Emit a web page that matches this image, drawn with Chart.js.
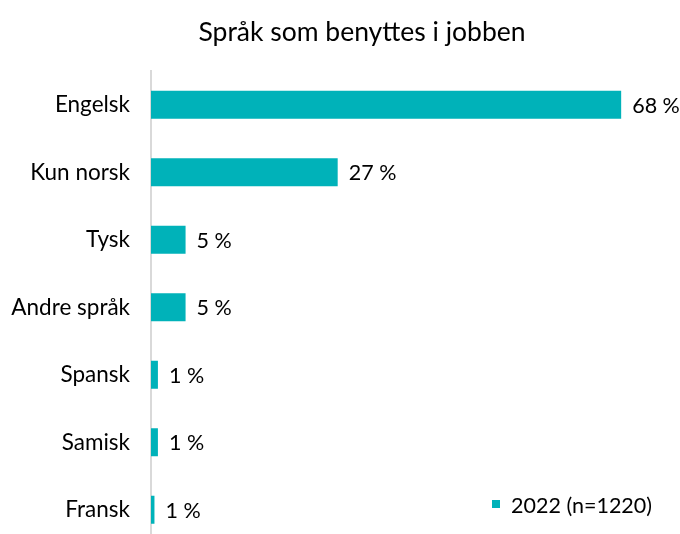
<!DOCTYPE html>
<html>
<head>
<meta charset="utf-8">
<script src="https://cdn.jsdelivr.net/npm/chart.js@4/dist/chart.umd.min.js"></script>
<style>
  html, body { margin: 0; padding: 0; background: #fff; overflow: hidden; }
</style>
</head>
<body>
<canvas id="chartSprak" width="680" height="578"></canvas>
<script>
// Data lest av figuren
const kategorier = ["Engelsk", "Kun norsk", "Tysk", "Andre språk", "Spansk", "Samisk", "Fransk"];
const verdier2022 = [68, 27, 5, 5, 1, 1, 0.5];
const serieNavn = "2022 (n=1220)";
const tittel = "Språk som benyttes i jobben";

const farge = "#00B2B9";
const font = "Lato, 'Open Sans', sans-serif";

// Tittel, verdietiketter og legende tegnes selv
const egneTegninger = {
  id: "egneTegninger",
  afterDatasetsDraw(chart) {
    const ctx = chart.ctx;
    const meta = chart.getDatasetMeta(0);
    ctx.save();
    ctx.fillStyle = "#000";
    ctx.font = "21.5px " + font;
    ctx.textAlign = "left";
    ctx.textBaseline = "middle";
    meta.data.forEach((bar, i) => {
      ctx.fillText(Math.round(verdier2022[i]) + " %", bar.x + 11, bar.y + 1);
    });

    // tittel
    ctx.font = "26.5px " + font;
    ctx.textAlign = "center";
    ctx.fillText(tittel, 362, 32);

    // legende
    ctx.fillStyle = farge;
    ctx.fillRect(492, 500, 8, 8);
    ctx.fillStyle = "#000";
    ctx.font = "21.5px " + font;
    ctx.textAlign = "left";
    ctx.fillText(serieNavn, 511, 506);
    ctx.restore();
  }
};

new Chart(document.getElementById("chartSprak"), {
  type: "bar",
  data: {
    labels: kategorier,
    datasets: [
      {
        label: serieNavn,
        data: verdier2022,
        backgroundColor: farge,
        borderWidth: 0,
        barPercentage: 0.415,
        categoryPercentage: 1,
      },
    ],
  },
  options: {
    indexAxis: "y",
    responsive: false,
    animation: false,
    layout: { padding: { top: 71, right: 45, bottom: 0, left: 0 } },
    plugins: {
      legend: { display: false },
      title: { display: false },
      tooltip: { enabled: false },
    },
    scales: {
      x: {
        display: false,
        min: 0,
        max: 70,
      },
      y: {
        afterFit: (s) => { s.width = 151; },
        grid: { display: false, drawTicks: false },
        border: { display: true, color: "#d9d9d9", width: 2 },
        ticks: {
          color: "#000",
          font: { family: font, size: 22.5 },
          padding: 21,
        },
      },
    },
  },
  plugins: [egneTegninger],
});
</script>
</body>
</html>
